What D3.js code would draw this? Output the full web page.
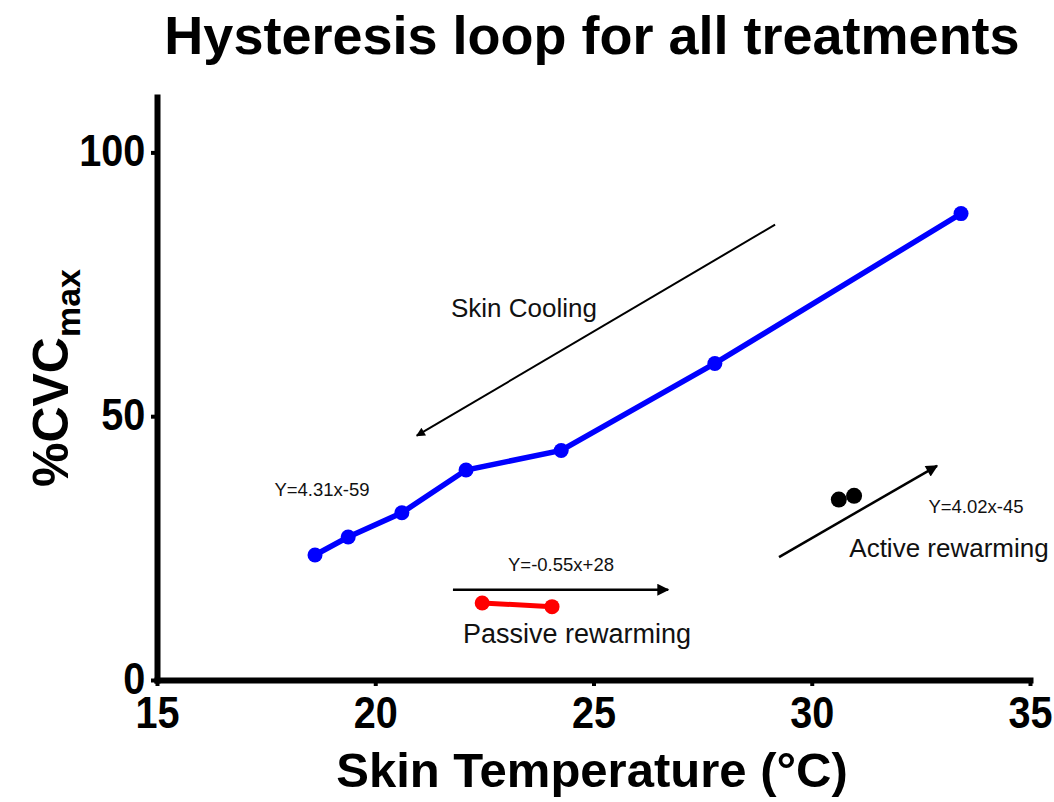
<!DOCTYPE html>
<html>
<head>
<meta charset="utf-8">
<script src="https://cdn.jsdelivr.net/npm/d3@7"></script>
<style>
	body { margin: 0; background: #fff; }
	text { font-family: "Liberation Sans", Arial, sans-serif; }
</style>
</head>
<body>
<div id="chart"></div>
<script>
// skin cooling (blue)
let coolTemp	= [18.62, 19.38, 20.61, 22.08, 24.26, 27.78, 33.42];
let coolCvc	= [23.7, 27.1, 31.7, 39.8, 43.5, 60.0, 88.4];
// passive rewarming (red)
let passTemp	= [22.45, 24.05];
let passCvc	= [14.6, 13.9];
// active rewarming (black)
let actTemp	= [30.62, 30.97];
let actCvc	= [34.2, 34.9];

let xTicks	= [15, 20, 25, 30, 35];
let yTicks	= [0, 50, 100];

// annotation arrows, in data units: [x1, y1, x2, y2]
let arrowCool	= [29.16, 86.3, 20.95, 46.3];
let arrowPass	= [21.78, 17.1, 26.71, 17.1];
let arrowAct	= [29.25, 23.3, 32.87, 40.6];

let width	= 1054;
let height	= 802;
let margin	= { top: 97, right: 24, bottom: 122, left: 157 };

let svg = d3.select("#chart").append("svg")
	.attr("width", width)
	.attr("height", height);

let defs = svg.append("defs");
defs.append("marker")
	.attr("id", "head")
	.attr("viewBox", "0 0 10 10")
	.attr("refX", 9).attr("refY", 5)
	.attr("markerWidth", 10).attr("markerHeight", 9)
	.attr("markerUnits", "userSpaceOnUse")
	.attr("orient", "auto")
	.append("path")
	.attr("d", "M0,0 L10,5 L0,10 z")
	.attr("fill", "#000");
defs.append("marker")
	.attr("id", "headBig")
	.attr("viewBox", "0 0 10 10")
	.attr("refX", 9).attr("refY", 5)
	.attr("markerWidth", 16).attr("markerHeight", 12)
	.attr("markerUnits", "userSpaceOnUse")
	.attr("orient", "auto")
	.append("path")
	.attr("d", "M0,0 L10,5 L0,10 z")
	.attr("fill", "#000");

let x = d3.scaleLinear().domain([15, 35]).range([margin.left, width - margin.right]);
let y = d3.scaleLinear().domain([0, 110.5]).range([height - margin.bottom, margin.top]);

svg.append("text")
	.attr("x", 592).attr("y", 54)
	.attr("text-anchor", "middle")
	.attr("font-size", 54).attr("font-weight", "bold")
	.text("Hysteresis loop for all treatments");

// axes
let xAxis = svg.append("g")
	.attr("transform", "translate(0," + y(0) + ")")
	.call(d3.axisBottom(x).tickValues(xTicks).tickSize(6).tickSizeOuter(0).tickPadding(7));
let yAxis = svg.append("g")
	.attr("transform", "translate(" + x(15) + ",0)")
	.call(d3.axisLeft(y).tickValues(yTicks).tickSize(6).tickSizeOuter(0).tickPadding(7));

[xAxis, yAxis].forEach((g) => {
	g.select(".domain").attr("stroke", "#000").attr("stroke-width", 6).attr("stroke-linecap", "square");
	g.selectAll(".tick line").attr("stroke", "#000").attr("stroke-width", 4);
	g.selectAll(".tick text")
		.attr("fill", "#000")
		.attr("font-size", 44).attr("font-weight", "bold")
		.attr("transform", "scale(0.9,1)");
});
xAxis.selectAll(".tick text").attr("dy", "0.8em");
yAxis.selectAll(".tick text").attr("dy", "0.3em");

svg.append("text")
	.attr("x", 592).attr("y", 787)
	.attr("text-anchor", "middle")
	.attr("font-size", 49).attr("font-weight", "bold")
	.text("Skin Temperature (\u00B0C)");

let yLab = svg.append("text")
	.attr("transform", "translate(68,378) rotate(-90)")
	.attr("text-anchor", "middle")
	.attr("font-size", 50).attr("font-weight", "bold");
yLab.append("tspan").text("%CVC");
yLab.append("tspan").attr("font-size", 34).attr("dy", 12).text("max");

// series
function drawSeries(xs, ys, color, lw, r) {
	let pts = xs.map((v, i) => [v, ys[i]]);
	let line = d3.line().x((d) => x(d[0])).y((d) => y(d[1]));
	svg.append("path")
		.attr("d", line(pts))
		.attr("fill", "none")
		.attr("stroke", color)
		.attr("stroke-width", lw);
	svg.selectAll(null)
		.data(pts)
		.enter().append("circle")
		.attr("cx", (d) => x(d[0]))
		.attr("cy", (d) => y(d[1]))
		.attr("r", r)
		.attr("fill", color);
}

drawSeries(coolTemp, coolCvc, "#0000ff", 5.5, 7.5);
drawSeries(passTemp, passCvc, "#ff0000", 5, 7.5);
drawSeries(actTemp, actCvc, "#000", 0, 8);

// arrows
function arrow(a, marker) {
	svg.append("line")
		.attr("x1", x(a[0])).attr("y1", y(a[1]))
		.attr("x2", x(a[2])).attr("y2", y(a[3]))
		.attr("stroke", "#000")
		.attr("stroke-width", marker === "headBig" ? 2.5 : 2)
		.attr("marker-end", "url(#" + marker + ")");
}
arrow(arrowCool, "head");
arrow(arrowPass, "headBig");
arrow(arrowAct, "headBig");

// annotations
let notes = [
	{ tx: 524, ty: 317, size: 26, txt: "Skin Cooling" },
	{ tx: 322, ty: 496, size: 18.5, txt: "Y=4.31x-59" },
	{ tx: 561, ty: 571, size: 18.5, txt: "Y=-0.55x+28" },
	{ tx: 577, ty: 643, size: 27, txt: "Passive rewarming" },
	{ tx: 976, ty: 513, size: 18.5, txt: "Y=4.02x-45" },
	{ tx: 949, ty: 557, size: 26, txt: "Active rewarming" }
];
svg.selectAll(".note")
	.data(notes)
	.enter().append("text")
	.attr("class", "note")
	.attr("x", (o) => o.tx)
	.attr("y", (o) => o.ty)
	.attr("text-anchor", "middle")
	.attr("font-size", (o) => o.size)
	.attr("fill", "#111")
	.text((o) => o.txt);
</script>
</body>
</html>
